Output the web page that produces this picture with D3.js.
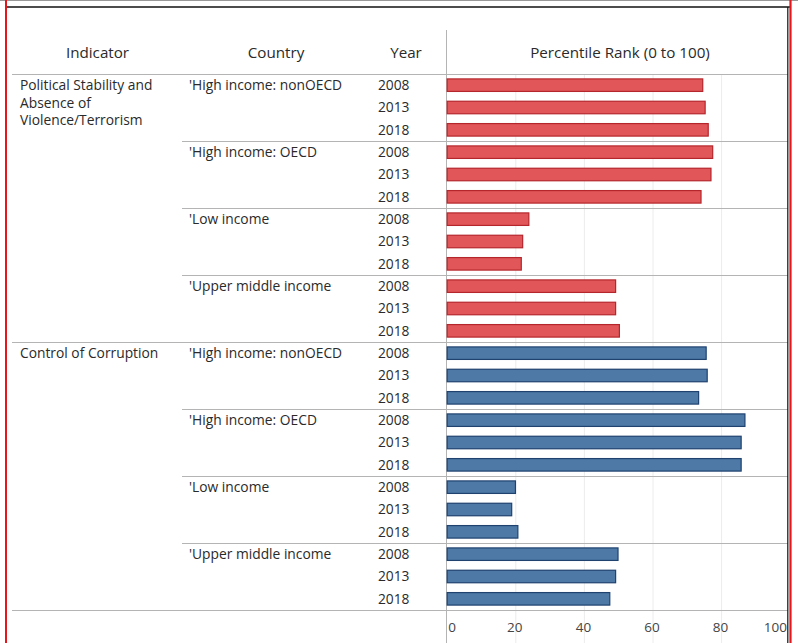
<!DOCTYPE html>
<html>
<head>
<meta charset="utf-8">
<script src="https://cdn.jsdelivr.net/npm/d3@7"></script>
<style>
html,body{margin:0;padding:0;background:#fff;}
svg{display:block;font-family:"Open Sans","Noto Sans",sans-serif;}
</style>
</head>
<body>
<svg id="chart" width="798" height="643"></svg>
<script>
// ---- data ----
const indicators = ["Political Stability and Absence of Violence/Terrorism", "Control of Corruption"];
const indicatorLines = [["Political Stability and", "Absence of", "Violence/Terrorism"], ["Control of Corruption"]];
const countries = ["'High income: nonOECD", "'High income: OECD", "'Low income", "'Upper middle income"];
const years = ["2008", "2013", "2018"];
const politicalStability = [74.5, 75.2, 76.1, 77.4, 76.9, 74.0, 23.8, 22.0, 21.6, 49.1, 49.1, 50.2];
const controlOfCorruption = [75.5, 75.8, 73.3, 86.8, 85.7, 85.7, 19.9, 18.8, 20.6, 49.8, 49.1, 47.4];
const tickValues = [0, 20, 40, 60, 80, 100];
const seriesValues = [politicalStability, controlOfCorruption];
const fills = ["#e15759", "#4e79a7"];
const strokes = ["#b5262c", "#1f426f"];

(function () {
// build rows
const rows = [];
indicators.forEach((ind, ii) => {
  countries.forEach((c, ci) => {
    years.forEach((y, yi) => {
      rows.push({ind: ii, country: ci, year: y, value: seriesValues[ii][ci * years.length + yi], key: ii + "|" + c + "|" + y});
    });
  });
});

const svg = d3.select("#chart");
const topY = 74, bottomY = 610;
const x = d3.scaleLinear().domain([0, 100]).range([447.2, 790.2]);
const y = d3.scaleBand().domain(rows.map(r => r.key)).range([topY, bottomY]).paddingInner(0.44).paddingOuter(0.22);
const step = y.step();
const textColor = "#2a2a2a";
const lineColor = "#b4b4b4";
const bodySize = 13.8;

// gridlines
svg.append("g").selectAll("line").data(tickValues.slice(1, 5)).join("line")
  .attr("x1", d => x(d)).attr("x2", d => x(d))
  .attr("y1", topY).attr("y2", 643)
  .attr("stroke", "#ececec").attr("stroke-width", 1);

// header
const hy = 57.5;
const header = svg.append("g").attr("font-size", 15.2).attr("fill", textColor).attr("text-anchor", "middle");
header.append("text").attr("x", 97.5).attr("y", hy).text("Indicator");
header.append("text").attr("x", 276).attr("y", hy).text("Country");
header.append("text").attr("x", 406).attr("y", hy).text("Year");
header.append("text").attr("x", 620).attr("y", hy).text("Percentile Rank (0 to 100)");

// horizontal separators
const sep = svg.append("g").attr("stroke", lineColor).attr("stroke-width", 1);
sep.append("line").attr("x1", 12).attr("x2", 788).attr("y1", topY + 0.5).attr("y2", topY + 0.5);
for (let g = 1; g <= indicators.length * countries.length; g++) {
  const yy = Math.round(topY + g * step * years.length) + 0.5;
  const isInd = g % countries.length === 0;
  sep.append("line").attr("x1", isInd ? 12 : 182).attr("x2", 788).attr("y1", yy).attr("y2", yy);
}

// vertical axis line
svg.append("line").attr("x1", 446.5).attr("x2", 446.5).attr("y1", 30).attr("y2", 643)
  .attr("stroke", lineColor).attr("stroke-width", 1);

// bars
svg.append("g").selectAll("rect").data(rows).join("rect")
  .attr("x", x(0))
  .attr("y", d => y(d.key))
  .attr("width", d => x(d.value) - x(0))
  .attr("height", y.bandwidth())
  .attr("fill", d => fills[d.ind])
  .attr("stroke", d => strokes[d.ind])
  .attr("stroke-width", 1.2);

// year labels
svg.append("g").attr("font-size", bodySize).attr("fill", textColor).attr("text-anchor", "end")
  .selectAll("text").data(rows).join("text")
  .attr("x", 409.5)
  .attr("y", d => y(d.key) + y.bandwidth() / 2 + 4.8)
  .text(d => d.year);

// country labels
const countryLabels = [];
indicators.forEach((ind, ii) => countries.forEach((c, ci) => countryLabels.push({ii, ci, c, key: ii + "|" + c + "|" + years[0]})));
svg.append("g").attr("font-size", bodySize).attr("fill", textColor)
  .selectAll("text").data(countryLabels).join("text")
  .attr("x", 189)
  .attr("y", d => y(d.key) + y.bandwidth() / 2 + 4.8)
  .text(d => d.c);

// indicator labels
indicators.forEach((ind, ii) => {
  const firstKey = ii + "|" + countries[0] + "|" + years[0];
  const by = y(firstKey) + y.bandwidth() / 2 + 4.8;
  const t = svg.append("text").attr("font-size", bodySize).attr("fill", textColor).attr("x", 20).attr("y", by);
  indicatorLines[ii].forEach((ln, k) => {
    t.append("tspan").attr("x", 20).attr("dy", k === 0 ? 0 : 17.6).text(ln);
  });
});

// x axis tick labels
svg.append("g").attr("font-size", 13.5).attr("fill", "#444")
  .selectAll("text").data(tickValues).join("text")
  .attr("x", (d, i) => i === 0 ? x(d) + 1 : (i === tickValues.length - 1 ? 787 : x(d) - 1))
  .attr("y", 632)
  .attr("text-anchor", (d, i) => i === 0 ? "start" : (i === tickValues.length - 1 ? "end" : "middle"))
  .text(d => d);

// frame
svg.append("line").attr("x1", 0).attr("x2", 798).attr("y1", 0.5).attr("y2", 0.5).attr("stroke", "#999").attr("stroke-width", 1);
svg.append("line").attr("x1", 7).attr("x2", 790).attr("y1", 7).attr("y2", 7).attr("stroke", "#111").attr("stroke-width", 1.5);
svg.append("line").attr("x1", 787.8).attr("x2", 787.8).attr("y1", 7).attr("y2", 643).attr("stroke", "#111").attr("stroke-width", 1.2);
svg.append("line").attr("x1", 790.5).attr("x2", 790.5).attr("y1", 0).attr("y2", 643).attr("stroke", "#e8161b").attr("stroke-width", 2.2);
svg.append("line").attr("x1", 6).attr("x2", 6).attr("y1", 0).attr("y2", 643).attr("stroke", "#e8161b").attr("stroke-width", 2);
})();
</script>
</body>
</html>
